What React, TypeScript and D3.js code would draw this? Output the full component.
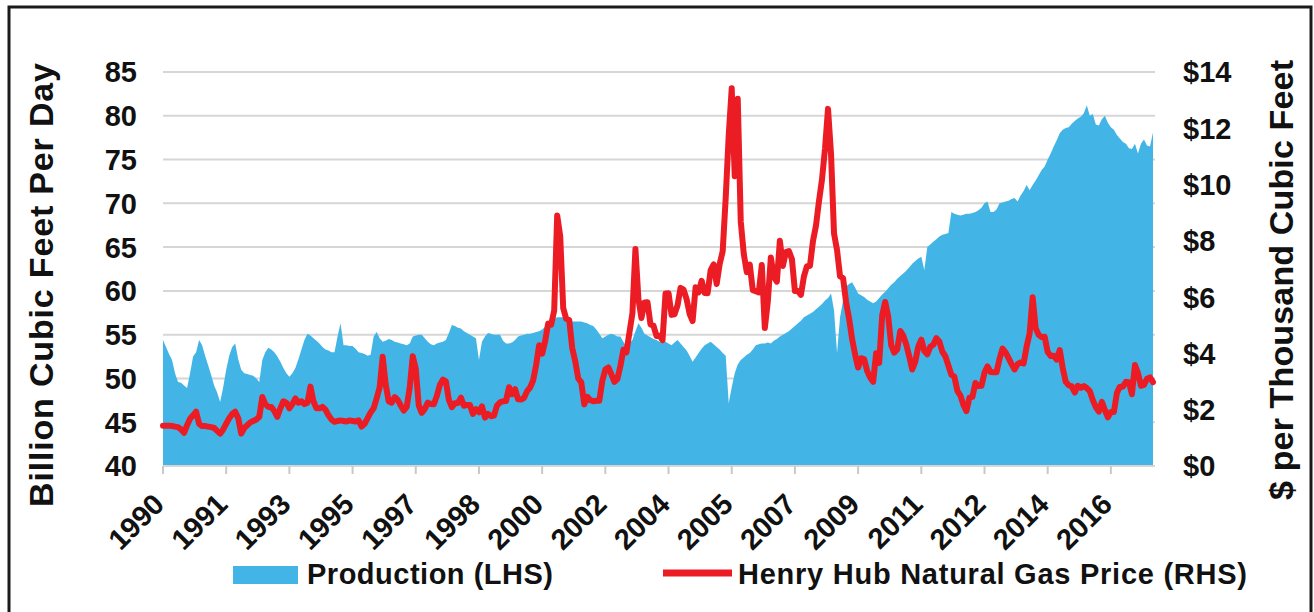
import React from "react";
import * as d3 from "d3";

// monthly, Jan 1990 .. Jun 2017 (Bcf/d)
const production: number[] = [
  54.4, 53.6, 52.8, 52.1, 50.6, 49.6, 49.5, 49.2, 48.9, 50.6, 52.5, 53.0,
  54.4, 53.8, 52.6, 51.5, 50.4, 49.2, 48.4, 47.3, 49.0, 51.0, 52.6, 53.6,
  54.0, 52.2, 51.0, 50.6, 50.5, 50.4, 50.3, 50.0, 49.6, 52.1, 53.0, 53.5,
  53.3, 53.0, 52.5, 51.9, 51.2, 50.6, 50.2, 50.6, 51.2, 52.2, 53.3, 54.4,
  55.1, 54.9, 54.6, 54.3, 54.0, 53.6, 53.3, 53.2, 53.0, 53.0, 54.8, 56.3,
  53.8, 53.8, 53.7, 53.7, 53.4, 53.0, 52.9, 52.8, 52.6, 52.7, 54.8, 55.3,
  54.6, 54.2, 54.3, 54.5, 54.4, 54.2, 54.1, 54.0, 53.9, 53.8, 54.0, 54.8,
  54.9, 55.0, 55.0, 54.6, 54.2, 53.9, 53.8, 54.0, 54.1, 54.2, 54.4, 55.2,
  56.1, 56.0, 55.8, 55.7, 55.4, 55.2, 55.0, 54.8, 54.6, 52.1, 54.2, 54.8,
  55.2, 55.1, 55.0, 55.0, 55.0, 54.3, 54.0, 54.0, 54.1, 54.4, 54.8, 54.9,
  55.0, 55.1, 55.1, 55.2, 55.3, 55.4, 55.6, 55.9, 56.3, 56.7, 56.8, 57.0,
  57.0, 57.0, 56.8, 56.6, 56.5, 56.5, 56.5, 56.5, 56.4, 56.3, 56.1, 56.0,
  55.6, 55.1, 54.6, 54.8, 55.0, 55.1, 55.0, 54.8, 54.8, 54.2, 53.6, 54.0,
  54.4, 55.4, 56.3, 55.8, 55.1, 54.9, 54.7, 54.5, 54.4, 54.2, 54.1, 54.2,
  54.0, 53.8, 54.1, 54.4, 54.0, 53.6, 53.2, 52.6, 51.9, 52.4, 52.9, 53.4,
  53.8, 54.0, 54.2, 53.9, 53.6, 53.3, 52.9, 52.6, 47.2, 49.0, 50.6, 51.6,
  52.1, 52.4, 52.7, 52.9, 53.3, 53.8, 53.9, 54.0, 54.0, 54.1, 54.0, 54.3,
  54.5, 54.8, 55.0, 55.2, 55.4, 55.7, 56.0, 56.3, 56.6, 57.0, 57.2, 57.4,
  57.6, 57.9, 58.2, 58.5, 58.9, 59.2, 59.7, 57.8, 52.9, 57.0, 58.9, 60.5,
  60.8, 61.0, 60.4, 59.7, 59.5, 59.3, 59.0, 58.8, 58.6, 58.8, 59.2, 59.6,
  59.9, 60.3, 60.7, 61.0, 61.4, 61.7, 62.0, 62.3, 62.7, 63.1, 63.4, 63.7,
  63.9, 62.4, 65.0, 65.3, 65.6, 65.9, 66.2, 66.4, 66.5, 66.6, 69.0, 68.8,
  68.7, 68.6, 68.7, 68.8, 68.8, 68.9, 69.0, 69.2, 69.5, 70.0, 70.2, 69.0,
  69.0, 69.3, 70.0, 70.1, 70.2, 70.3, 70.5, 70.6, 70.2, 70.9, 71.4, 72.1,
  71.5, 72.1, 72.6, 73.2, 73.8, 74.2, 75.0, 75.7, 76.5, 77.2, 78.0, 78.4,
  78.6, 78.7, 79.1, 79.4, 79.7, 79.9, 80.3, 81.2, 80.0, 80.2, 79.0, 78.9,
  79.6, 80.0, 79.2, 78.7, 78.4, 77.8, 77.4, 77.0, 76.8, 76.3, 76.2, 76.8,
  75.7, 76.8, 77.3, 76.6, 76.5, 78.1,
];

// monthly, Jan 1990 .. Jun 2017 ($/Mcf)
const henryHub: number[] = [
  1.43, 1.43, 1.43, 1.42, 1.40, 1.38, 1.30, 1.18, 1.45, 1.68, 1.80, 1.93,
  1.50, 1.42, 1.42, 1.40, 1.38, 1.35, 1.25, 1.15, 1.30, 1.50, 1.70, 1.85,
  1.93, 1.70, 1.15, 1.35, 1.45, 1.55, 1.60, 1.65, 1.75, 2.45, 2.20, 2.10,
  2.10, 1.95, 1.75, 2.05, 2.30, 2.25, 2.05, 2.20, 2.40, 2.25, 2.30, 2.20,
  2.25, 2.82, 2.30, 2.05, 2.05, 2.10, 2.00, 1.80, 1.65, 1.57, 1.60, 1.62,
  1.60, 1.58, 1.62, 1.60, 1.58, 1.62, 1.40, 1.50, 1.70, 1.90, 2.05, 2.40,
  2.80, 3.88, 2.90, 2.30, 2.25, 2.45, 2.35, 2.15, 1.97, 2.10, 2.80, 3.90,
  3.45, 2.15, 1.89, 2.03, 2.25, 2.20, 2.19, 2.49, 2.88, 3.07, 3.01, 2.35,
  2.09, 2.23, 2.24, 2.43, 2.14, 2.17, 2.17, 1.85, 2.02, 1.91, 2.12, 1.72,
  1.85, 1.77, 1.79, 2.15, 2.26, 2.30, 2.31, 2.80, 2.55, 2.73, 2.37, 2.36,
  2.42, 2.66, 2.79, 3.04, 3.59, 4.29, 3.99, 4.43, 5.06, 5.02, 5.52, 8.90,
  8.17, 5.61, 5.23, 5.19, 4.19, 3.72, 3.11, 2.97, 2.19, 2.46, 2.34, 2.30,
  2.32, 2.32, 3.03, 3.43, 3.50, 3.26, 2.99, 3.09, 3.55, 4.13, 4.04, 4.74,
  5.43, 7.71, 5.93, 5.26, 5.81, 5.82, 5.03, 4.99, 4.62, 4.63, 4.47, 6.13,
  6.14, 5.37, 5.39, 5.71, 6.33, 6.27, 5.93, 5.41, 5.15, 6.35, 6.17, 6.58,
  6.15, 6.14, 6.96, 7.16, 6.47, 7.18, 7.63, 9.53, 11.75, 13.42, 10.30, 13.05,
  8.69, 7.54, 6.89, 7.16, 6.25, 6.21, 6.17, 7.14, 4.90, 5.85, 7.41, 6.73,
  6.55, 8.00, 7.11, 7.60, 7.64, 7.35, 6.22, 6.22, 6.08, 6.74, 7.10, 7.11,
  7.99, 8.54, 9.41, 10.18, 11.27, 12.69, 11.09, 8.26, 7.67, 6.74, 6.68, 5.82,
  5.24, 4.52, 3.96, 3.50, 3.83, 3.80, 3.38, 3.14, 2.99, 4.01, 3.66, 5.35,
  5.83, 5.32, 4.29, 4.03, 4.14, 4.80, 4.63, 4.32, 3.89, 3.43, 3.71, 4.25,
  4.49, 4.09, 3.97, 4.24, 4.31, 4.54, 4.42, 4.06, 3.90, 3.57, 3.24, 3.17,
  2.67, 2.50, 2.17, 1.95, 2.43, 2.46, 2.95, 2.84, 2.85, 3.32, 3.54, 3.34,
  3.33, 3.33, 3.81, 4.17, 4.04, 3.83, 3.62, 3.43, 3.62, 3.68, 3.64, 4.24,
  4.71, 6.00, 4.90, 4.66, 4.58, 4.59, 4.05, 3.91, 3.92, 3.78, 4.12, 3.48,
  2.99, 2.87, 2.83, 2.61, 2.85, 2.78, 2.84, 2.77, 2.66, 2.34, 2.09, 1.93,
  2.28, 1.99, 1.73, 1.92, 1.92, 2.59, 2.82, 2.82, 2.99, 2.98, 2.55, 3.59,
  3.30, 2.85, 2.88, 3.10, 3.15, 2.98,
];

// one category label every 21 months, starting Jan 1990
const tickLabels = [
  "1990", "1991", "1993", "1995", "1997", "1998", "2000", "2002",
  "2004", "2005", "2007", "2009", "2011", "2012", "2014", "2016",
];
const labelEvery = 21;

const leftTicks = [40, 45, 50, 55, 60, 65, 70, 75, 80, 85];
const rightTicks = [0, 2, 4, 6, 8, 10, 12, 14];

const W = 1314;
const H = 612;
const font = "'Liberation Sans', Arial, Helvetica, sans-serif";
const BLUE = "#42b5e6";
const RED = "#ec1c24";

export default function App() {
  const x = d3.scaleLinear().domain([0, production.length - 1]).range([163, 1153]);
  const yL = d3.scaleLinear().domain([40, 85]).range([466, 72]);
  const yR = d3.scaleLinear().domain([0, 14]).range([466, 72]);

  const area = d3
    .area<number>()
    .x((_, i) => x(i))
    .y0(yL(40))
    .y1((d) => yL(d));

  const line = d3
    .line<number>()
    .x((_, i) => x(i))
    .y((d) => yR(d));

  const ticks = tickLabels.map((t, k) => ({ label: t, idx: k * labelEvery }));

  return (
    <svg
      width={W}
      height={H}
      style={{ position: "absolute", left: 0, top: 0, background: "#fff" }}
      fontFamily={font}
      fontWeight="bold"
    >
      <rect x={0} y={0} width={W} height={H} fill="#fff" />
      <rect x={9} y={7} width={1302} height={640} fill="none" stroke="#1a1a1a" strokeWidth={3} />

      {/* gridlines */}
      {leftTicks.slice(1).map((t) => (
        <line key={t} x1={163} x2={1155} y1={yL(t)} y2={yL(t)} stroke="#d6d6d6" strokeWidth={2} />
      ))}

      <path d={area(production) ?? ""} fill={BLUE} />

      {/* x axis */}
      <line x1={163} x2={1155} y1={466} y2={466} stroke="#d6d6d6" strokeWidth={2} />
      {ticks.map((t) => (
        <line key={t.label} x1={x(t.idx)} x2={x(t.idx)} y1={466} y2={474} stroke="#c8c8c8" strokeWidth={2} />
      ))}

      <path
        d={line(henryHub) ?? ""}
        fill="none"
        stroke={RED}
        strokeWidth={6}
        strokeLinejoin="round"
        strokeLinecap="round"
      />

      {/* left ticks */}
      {leftTicks.map((t) => (
        <text key={t} x={137} y={yL(t)} dy="0.36em" textAnchor="end" fontSize={29} fill="#111">
          {t}
        </text>
      ))}
      {/* right ticks */}
      {rightTicks.map((t) => (
        <text key={t} x={1183} y={yR(t)} dy="0.36em" textAnchor="start" fontSize={29} fill="#111">
          {"$" + t}
        </text>
      ))}

      {/* x labels */}
      {ticks.map((t) => (
        <text
          key={t.label}
          transform={`translate(${x(t.idx) + 3},${506}) rotate(-45)`}
          textAnchor="end"
          fontSize={29}
          fill="#111"
        >
          {t.label}
        </text>
      ))}

      {/* axis titles */}
      <text
        transform="translate(53,285) rotate(-90)"
        textAnchor="middle"
        fontSize={34}
        fill="#111"
        textLength={444}
        lengthAdjust="spacing"
      >
        Billion Cubic Feet Per Day
      </text>
      <text
        transform="translate(1293,280) rotate(-90)"
        textAnchor="middle"
        fontSize={34}
        fill="#111"
        textLength={440}
        lengthAdjust="spacing"
      >
        $ per Thousand Cubic Feet
      </text>

      {/* legend */}
      <rect x={233} y={566} width={65} height={18} fill={BLUE} />
      <text x={307} y={584} fontSize={29} fill="#111" textLength={246} lengthAdjust="spacing">
        Production (LHS)
      </text>
      <line x1={663} x2={732} y1={573} y2={573} stroke={RED} strokeWidth={7} />
      <text x={738} y={584} fontSize={29} fill="#111" textLength={509} lengthAdjust="spacing">
        Henry Hub Natural Gas Price (RHS)
      </text>
    </svg>
  );
}
